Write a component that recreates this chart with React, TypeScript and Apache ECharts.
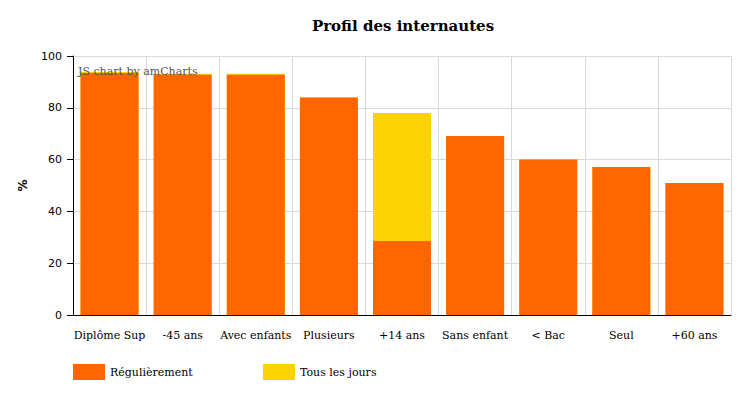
import React, { useEffect, useRef } from "react";
import * as echarts from "echarts";

const categories = ["Diplôme Sup", "-45 ans", "Avec enfants", "Plusieurs", "+14 ans", "Sans enfant", "< Bac", "Seul", "+60 ans"];
const regulierement = [93.4, 92.8, 92.8, 84, 28.6, 69.1, 60, 57.1, 51];
const tousLesJours = [93.8, 93.1, 93.1, 84, 78, 69.1, 60, 57.1, 51];
const yTicks = { min: 0, max: 100, interval: 20 };

const serif = "'DejaVu Serif', serif";
const sans = "'DejaVu Sans', sans-serif";

export default function App() {
  const ref = useRef<HTMLDivElement>(null);
  useEffect(() => {
    document.body.style.margin = "0";
    const chart = echarts.init(ref.current!, null, { renderer: "svg" });
    chart.setOption({
      animation: false,
      title: {
        text: "Profil des internautes",
        left: 398,
        textAlign: "center",
        top: 13,
        textStyle: { fontFamily: serif, fontSize: 15, fontWeight: "bold", color: "#000" },
      },
      legend: [
        {
          left: 68,
          top: 359,
          itemWidth: 32,
          itemHeight: 16,
          icon: "rect",
          data: ["Régulièrement"],
          textStyle: { fontFamily: serif, fontSize: 11, color: "#000" },
        },
        {
          left: 258,
          top: 359,
          itemWidth: 32,
          itemHeight: 16,
          icon: "rect",
          data: ["Tous les jours"],
          textStyle: { fontFamily: serif, fontSize: 11, color: "#000" },
        },
      ],
      grid: { left: 73, right: 22, top: 56, bottom: 80 },
      xAxis: {
        type: "category",
        data: categories,
        axisLine: { lineStyle: { color: "#000", width: 1 } },
        axisTick: { alignWithLabel: true, length: 5, lineStyle: { color: "#000" } },
        axisLabel: { fontFamily: serif, fontSize: 11, color: "#000", margin: 15, interval: 0 },
        splitLine: { show: true, lineStyle: { color: "#d9d9d9" } },
      },
      yAxis: {
        type: "value",
        min: yTicks.min,
        max: yTicks.max,
        interval: yTicks.interval,
        name: "%",
        nameLocation: "middle",
        nameGap: 44,
        nameRotate: 90,
        nameMoveOverlap: false,
        nameTextStyle: { fontFamily: sans, fontSize: 12, fontWeight: "bold", color: "#000" },
        axisLine: { show: true, lineStyle: { color: "#000", width: 1 } },
        axisTick: { show: true, length: 6, lineStyle: { color: "#000" } },
        axisLabel: { fontFamily: sans, fontSize: 11, color: "#000", margin: 11 },
        splitLine: { show: true, lineStyle: { color: "#d9d9d9" } },
      },
      series: [
        {
          name: "Tous les jours",
          type: "bar",
          data: tousLesJours,
          barWidth: 58,
          barGap: "-100%",
          itemStyle: { color: "#FCD202" },
        },
        {
          name: "Régulièrement",
          type: "bar",
          data: regulierement,
          barWidth: 58,
          barGap: "-100%",
          itemStyle: { color: "#FF6600" },
        },
      ],
      graphic: [
        {
          type: "text",
          left: 78,
          top: 66,
          z: 100,
          style: { text: "JS chart by amCharts", fontFamily: serif, fontSize: 11, fill: "#555" },
        },
      ],
    });
    return () => chart.dispose();
  }, []);
  return <div ref={ref} style={{ width: 753, height: 395 }} />;
}
